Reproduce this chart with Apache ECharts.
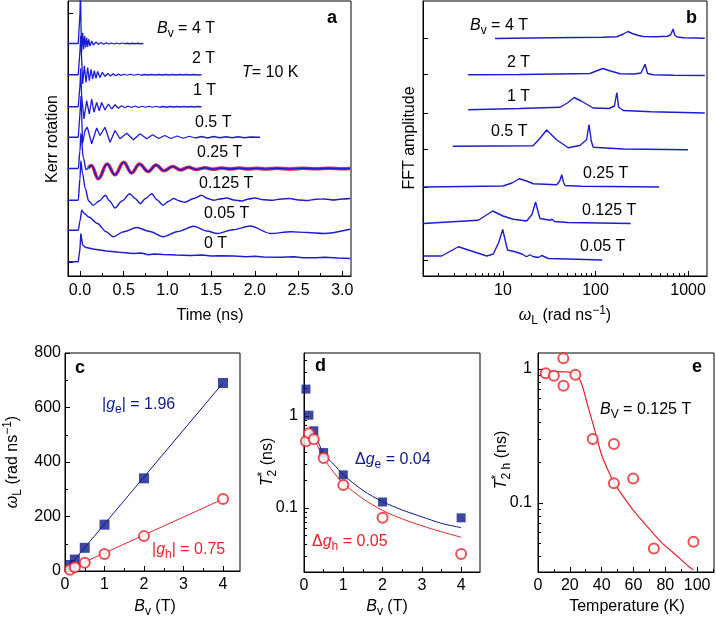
<!DOCTYPE html>
<html>
<head>
<meta charset="utf-8">
<title>Spin precession and dephasing</title>
<script src="https://cdn.jsdelivr.net/npm/echarts@6.0.0/dist/echarts.min.js"></script>
<style>
  html, body { margin: 0; padding: 0; background: #fff; }
  #chart { width: 716px; height: 619px; }
</style>
</head>
<body>
<div id="chart"></div>
<script>
// ---- panel a: Kerr rotation traces, [time (ns), offset units] ----
const kerr4T = [[-0.14,9.30],[-0.02,9.30],[0.0,10.5],[0.006,11.5],[0.012,10.0],[0.019,8.96],[0.031,9.73],[0.042,9.07],[0.053,9.60],[0.065,9.14],[0.076,9.53],[0.088,9.16],[0.099,9.47],[0.115,9.20],[0.134,9.40],[0.153,9.24],[0.183,9.36],[0.210,9.27],[0.24,9.34],[0.27,9.27],[0.30,9.33],[0.33,9.28],[0.36,9.32],[0.39,9.28],[0.42,9.32],[0.45,9.28],[0.48,9.32],[0.51,9.29],[0.54,9.31],[0.57,9.29],[0.60,9.31],[0.63,9.29],[0.66,9.31],[0.69,9.29],[0.725,9.30]];
const kerr2T = [[-0.14,8.05],[-0.02,8.05],[0.0,9.0],[0.008,9.6],[0.02,8.6],[0.031,7.68],[0.050,8.41],[0.069,7.74],[0.088,8.34],[0.107,7.81],[0.126,8.27],[0.145,7.88],[0.164,8.21],[0.183,7.91],[0.202,8.18],[0.229,7.94],[0.256,8.15],[0.286,7.98],[0.317,8.10],[0.35,8.00],[0.38,8.09],[0.41,8.01],[0.44,8.08],[0.47,8.02],[0.50,8.07],[0.54,8.03],[0.58,8.07],[0.62,8.03],[0.66,8.07],[0.70,8.03],[0.74,8.06],[0.78,8.04],[0.82,8.06],[0.86,8.04],[0.90,8.06],[0.94,8.04],[0.98,8.06],[1.02,8.04],[1.06,8.06],[1.10,8.04],[1.14,8.06],[1.18,8.04],[1.22,8.06],[1.26,8.04],[1.30,8.06],[1.34,8.04],[1.39,8.05]];
const kerr1T = [[-0.14,6.77],[-0.02,6.77],[0.0,7.6],[0.008,8.3],[0.019,7.21],[0.046,6.28],[0.076,7.01],[0.107,6.48],[0.134,7.08],[0.160,6.55],[0.191,6.94],[0.221,6.61],[0.248,6.94],[0.286,6.64],[0.325,6.88],[0.363,6.68],[0.401,6.85],[0.439,6.71],[0.477,6.81],[0.515,6.73],[0.55,6.80],[0.59,6.74],[0.63,6.80],[0.67,6.74],[0.71,6.79],[0.75,6.75],[0.79,6.79],[0.83,6.75],[0.87,6.79],[0.91,6.75],[0.95,6.78],[0.99,6.75],[1.03,6.78],[1.07,6.76],[1.11,6.78],[1.15,6.76],[1.19,6.78],[1.23,6.76],[1.27,6.78],[1.31,6.76],[1.35,6.78],[1.39,6.77]];
const kerr05T = [[-0.14,5.55],[-0.02,5.55],[0.0,6.5],[0.012,7.2],[0.03,5.3],[0.057,5.82],[0.084,5.95],[0.134,5.29],[0.191,5.92],[0.229,5.62],[0.286,5.95],[0.344,5.35],[0.401,5.82],[0.458,5.49],[0.535,5.71],[0.611,5.45],[0.687,5.69],[0.764,5.49],[0.83,5.65],[0.90,5.50],[0.97,5.62],[1.04,5.50],[1.11,5.60],[1.18,5.51],[1.25,5.59],[1.32,5.52],[1.39,5.58],[1.46,5.52],[1.53,5.58],[1.60,5.53],[1.67,5.57],[1.74,5.53],[1.81,5.57],[1.88,5.53],[1.95,5.56],[2.06,5.55]];
const kerr025T = [[-0.14,4.30],[-0.02,4.30],[0.0,5.0],[0.01,5.7],[0.04,4.7],[0.07,4.25],[0.095,4.32],[0.13,4.42],[0.21,3.89],[0.31,4.48],[0.40,4.05],[0.50,4.55],[0.59,4.12],[0.68,4.48],[0.78,4.18],[0.87,4.44],[0.96,4.21],[1.06,4.38],[1.15,4.24],[1.24,4.35],[1.33,4.26],[1.43,4.33],[1.52,4.27],[1.62,4.32],[1.72,4.28],[1.82,4.32],[1.92,4.28],[2.02,4.31],[2.12,4.28],[2.25,4.31],[2.4,4.28],[2.55,4.31],[2.7,4.29],[2.85,4.31],[3.0,4.29],[3.09,4.30]];
const kerr0125T = [[-0.14,3.03],[-0.02,3.03],[0.0,3.9],[0.01,4.6],[0.03,4.1],[0.06,3.5],[0.1,3.0],[0.15,2.83],[0.22,3.0],[0.29,3.23],[0.34,3.0],[0.40,2.72],[0.48,3.0],[0.57,3.29],[0.63,3.1],[0.69,2.90],[0.75,3.1],[0.82,3.29],[0.88,3.05],[0.95,2.83],[1.01,2.98],[1.07,3.10],[1.14,3.00],[1.20,2.95],[1.30,3.10],[1.39,3.23],[1.46,3.10],[1.53,3.03],[1.60,3.08],[1.68,3.12],[1.76,3.04],[1.85,3.00],[1.93,3.08],[2.0,3.12],[2.1,3.05],[2.2,3.03],[2.3,3.08],[2.4,3.10],[2.5,3.04],[2.6,3.02],[2.7,3.07],[2.8,3.08],[2.9,3.04],[3.0,3.08],[3.09,3.10]];
const kerr005T = [[-0.14,1.83],[-0.02,1.83],[0.0,2.2],[0.02,2.63],[0.05,2.5],[0.1,2.36],[0.2,2.10],[0.3,1.77],[0.38,1.57],[0.5,1.77],[0.65,1.94],[0.8,1.78],[0.95,1.57],[1.12,1.78],[1.3,1.99],[1.45,1.80],[1.57,1.70],[1.75,1.85],[1.95,2.00],[2.18,1.70],[2.41,1.77],[2.6,1.74],[2.79,1.70],[3.09,1.87]];
const kerr0T = [[-0.14,0.57],[-0.02,0.57],[0.0,1.1],[0.01,1.7],[0.03,1.25],[0.06,1.15],[0.15,1.08],[0.3,1.0],[0.45,0.95],[0.61,0.90],[0.7,0.92],[0.78,0.85],[0.85,0.88],[0.95,0.86],[1.1,0.84],[1.26,0.82],[1.4,0.84],[1.5,0.80],[1.6,0.81],[1.76,0.80],[1.9,0.77],[2.0,0.79],[2.1,0.76],[2.3,0.75],[2.45,0.77],[2.55,0.73],[2.7,0.73],[2.8,0.75],[2.95,0.72],[3.09,0.70]];

// ---- panel b: FFT spectra, [omega (rad/ns), offset units] ----
const fft4T = [[8.2,9.50],[20,9.52],[60,9.54],[120,9.55],[170,9.57],[200,9.68],[224,9.78],[250,9.70],[290,9.62],[330,9.58],[450,9.57],[600,9.59],[650,9.65],[690,9.88],[715,9.65],[760,9.56],[900,9.53],[1200,9.52],[1516,9.51]];
const fft2T = [[4.2,8.05],[15,8.06],[40,8.08],[87,8.10],[105,8.22],[120,8.30],[145,8.20],[184,8.09],[260,8.08],[310,8.12],[343,8.47],[365,8.10],[420,8.05],[700,8.03],[1516,8.02]];
const fft1T = [[4.2,6.65],[15,6.70],[41.5,6.75],[50,6.93],[58.7,7.14],[70,7.00],[94,6.72],[140,6.70],[160,6.80],[170,7.34],[178,6.75],[200,6.62],[400,6.57],[1516,6.52]];
const fft05T = [[2.86,5.19],[21.1,5.21],[25,5.50],[29.6,5.84],[38,5.45],[50.6,5.13],[67.7,5.22],[80,5.45],[85,6.06],[90,5.40],[94.4,5.15],[200,5.08],[1000,5.05]];
const fft025T = [[1.37,3.56],[10,3.60],[12.5,3.72],[15,3.89],[18,3.80],[21.3,3.69],[38,3.65],[41,3.80],[43.1,4.05],[45,3.75],[46.8,3.62],[70,3.59],[488,3.56]];
const fft0125T = [[1.37,2.10],[5.41,2.23],[6.5,2.42],[7.74,2.60],[10,2.40],[12.9,2.27],[18,2.20],[20.5,2.45],[22.5,2.96],[24,2.55],[25.1,2.30],[32.2,2.23],[34,2.27],[36,2.18],[50,2.14],[240,2.10]];
const fft005T = [[1.37,0.80],[2.17,0.80],[3.29,1.17],[6.67,0.80],[7.86,0.88],[9.0,1.35],[9.93,1.86],[10.6,1.40],[11.2,1.04],[13.5,0.97],[16,0.88],[18,0.77],[19.5,0.85],[21,0.78],[24.1,0.74],[26.2,0.82],[30.9,0.70],[50,0.68],[118,0.64]];

// ---- panel c: Larmor frequency vs field ----
const cFieldE = [0.125, 0.25, 0.5, 1, 2, 4];
const cOmegaE = [22, 42, 85, 170, 340, 690];
const cFieldH = [0.125, 0.25, 0.5, 1, 2, 4];
const cOmegaH = [5, 14, 30, 62, 128, 264];
const cFitField = [0, 4];
const cFitE = [0, 690];
const cFitH = [0, 264];

// ---- panel d: T2* vs field ----
const dFieldE = [0.05, 0.125, 0.25, 0.5, 1, 2, 4];
const dT2E = [1.96, 1.02, 0.69, 0.40, 0.229, 0.116, 0.078];
const dFieldH = [0.05, 0.125, 0.25, 0.5, 1, 2, 4];
const dT2H = [0.53, 0.65, 0.56, 0.35, 0.178, 0.078, 0.0316];
const dFitField = [0.18, 0.3, 0.5, 0.75, 1, 1.5, 2, 2.5, 3, 3.5, 4];
const dFitE = [0.75, 0.6, 0.39, 0.3, 0.23, 0.155, 0.117, 0.095, 0.08, 0.068, 0.061];
const dFitH = [0.65, 0.52, 0.35, 0.245, 0.185, 0.126, 0.094, 0.076, 0.064, 0.055, 0.048];

// ---- panel e: hole T2* vs temperature ----
const eTemp = [4.8, 10, 15.9, 16, 23.5, 34.4, 47.7, 47.7, 59.8, 72.8, 97.7];
const eT2h = [0.93, 0.89, 1.2, 0.75, 0.906, 0.30, 0.275, 0.14, 0.152, 0.0456, 0.0514];
const eFitTemp = [3, 10, 18, 23, 27.2, 31.4, 35.6, 39.7, 43.9, 48.1, 54.4, 60.7, 69, 77.4, 85.8, 94.1, 97.7];
const eFitT2h = [0.955, 0.955, 0.95, 0.933, 0.785, 0.525, 0.351, 0.234, 0.176, 0.14, 0.108, 0.0856, 0.066, 0.051, 0.0417, 0.034, 0.0316];

// ---- tick values ----
const aTimeMajor = [0, 0.5, 1, 1.5, 2, 2.5, 3];
const aTimeMinor = [0.25, 0.75, 1.25, 1.75, 2.25, 2.75];
const aOffsetTicks = [0.56, 5.54, 10.52];
const bOmegaMajor = [10, 100, 1000];
const bOmegaMinor = [2, 3, 4, 5, 6, 7, 8, 9, 20, 30, 40, 50, 60, 70, 80, 90, 200, 300, 400, 500, 600, 700, 800, 900];
const bOffsetTicks = [0.64, 2.11, 3.55, 5.06, 6.53, 8.05, 9.52];
const fieldMajor = [0, 1, 2, 3, 4];
const fieldMinor = [0.5, 1.5, 2.5, 3.5];
const cOmegaMajor = [0, 200, 400, 600, 800];
const cOmegaMinor = [100, 300, 500, 700];
const logMajor = [0.1, 1];
const dT2Minor = [0.03, 0.04, 0.05, 0.06, 0.07, 0.08, 0.09, 0.2, 0.3, 0.4, 0.5, 0.6, 0.7, 0.8, 0.9, 2, 3, 4];
const eT2Minor = [0.04, 0.05, 0.06, 0.07, 0.08, 0.09, 0.2, 0.3, 0.4, 0.5, 0.6, 0.7, 0.8, 0.9];
const eTempMajor = [0, 20, 40, 60, 80, 100];
const eTempMinor = [10, 30, 50, 70, 90, 110];

const FONT = '"Liberation Sans", Arial, Helvetica, sans-serif';
const TRACE = '#1c1cd2';
const NAVY = '#0f1a8a';
const RED = '#e8232b';

const zip = (xs, ys) => xs.map((x, i) => [x, ys[i]]);

// major axis with labels + a twin carrying the short minor ticks
function axes(dim, gi, o) {
  const base = {
    type: o.type || 'value',
    gridIndex: gi,
    min: o.min,
    max: o.max,
    position: dim === 'x' ? 'bottom' : 'left',
    splitLine: { show: false }
  };
  if (o.type === 'log') base.logBase = 10;
  const major = Object.assign({}, base, {
    axisLine: { show: true, onZero: false, lineStyle: { color: '#000', width: 1 } },
    axisTick: { show: true, inside: true, length: 5, customValues: o.ticks, lineStyle: { color: '#000', width: 1 } },
    axisLabel: {
      show: !!o.labels,
      customValues: o.labels || [],
      margin: o.margin || 6,
      fontSize: 16,
      fontFamily: FONT,
      color: '#000',
      formatter: o.fmt || (v => String(v))
    }
  });
  const minor = Object.assign({}, base, {
    axisLine: { show: false, onZero: false },
    axisTick: { show: !!(o.minor && o.minor.length), inside: true, length: 3, customValues: o.minor || [], lineStyle: { color: '#000', width: 1 } },
    axisLabel: { show: false }
  });
  return [major, minor];
}

function line(gi, data, color, width, extra) {
  return Object.assign({
    type: 'line',
    xAxisIndex: 2 * gi,
    yAxisIndex: 2 * gi,
    data: data,
    symbol: 'none',
    showSymbol: false,
    lineStyle: { color: color, width: width },
    itemStyle: { color: color },
    silent: true
  }, extra || {});
}

function squares(gi, data, size) {
  return {
    type: 'scatter', xAxisIndex: 2 * gi, yAxisIndex: 2 * gi, data: data,
    symbol: 'rect', symbolSize: size, itemStyle: { color: NAVY }, z: 5, silent: true
  };
}

function circles(gi, data, size) {
  return {
    type: 'scatter', xAxisIndex: 2 * gi, yAxisIndex: 2 * gi, data: data,
    symbol: 'circle', symbolSize: size,
    itemStyle: { color: '#fff', borderColor: RED, borderWidth: 2 }, z: 6, silent: true
  };
}

// text with sub/superscripts: flags i italic, b sub, p sup, n no advance
const meas = document.createElement('canvas').getContext('2d');
function fontStr(size, italic, bold) {
  return (italic ? 'italic ' : '') + (bold ? 'bold ' : '') + size + 'px ' + FONT;
}
function label(x, y, parts, opt) {
  opt = opt || {};
  const size = opt.size || 16;
  const kids = [];
  let cx = 0;
  parts.forEach(p => {
    const txt = p[0];
    const fl = p[1] || '';
    const small = fl.includes('b') || fl.includes('p');
    const font = fontStr(small ? Math.round(size * 0.72) : size, fl.includes('i'), opt.bold);
    meas.font = font;
    const w = meas.measureText(txt).width;
    const dy = fl.includes('b') ? size * 0.32 : (fl.includes('p') ? -size * 0.36 : 0);
    kids.push({
      type: 'text', x: cx, y: dy,
      style: { text: txt, font: font, fill: opt.color || '#000', align: 'left', verticalAlign: 'middle' }
    });
    if (!fl.includes('n')) cx += w;
  });
  if (opt.center) kids.forEach(k => { k.x -= cx / 2; });
  return { type: 'group', x: x, y: y, rotation: opt.rot ? Math.PI / 2 : 0, silent: true, children: kids };
}

const texts = [
  // panel a
  label(157, 29, [['B', 'i'], ['v', 'b'], [' = 4 T']]),
  label(192, 59, [['2 T']]),
  label(242, 73, [['T', 'i'], ['= 10 K']]),
  label(193, 91, [['1 T']]),
  label(195, 123, [['0.5 T']]),
  label(197, 153, [['0.25 T']]),
  label(199, 184, [['0.125 T']]),
  label(204, 214, [['0.05 T']]),
  label(204, 244, [['0 T']]),
  label(327, 18, [['a']], { bold: true, size: 18 }),
  label(53, 139, [['Kerr rotation']], { rot: true, center: true }),
  label(210, 316, [['Time (ns)']], { center: true }),
  // panel b
  label(470, 26, [['B', 'i'], ['v', 'b'], [' = 4 T']]),
  label(507, 63, [['2 T']]),
  label(507, 97, [['1 T']]),
  label(491, 132, [['0.5 T']]),
  label(583, 174, [['0.25 T']]),
  label(582, 211, [['0.125 T']]),
  label(580, 247, [['0.05 T']]),
  label(686, 18, [['b']], { bold: true, size: 18 }),
  label(410, 138, [['FFT amplitude']], { rot: true, center: true }),
  label(565, 316, [['ω', 'i'], ['L', 'b'], [' (rad ns'], ['−1', 'p'], [')']], { center: true }),
  // panel c
  label(75, 368, [['c']], { bold: true, size: 18 }),
  label(102, 405, [['|'], ['g', 'i'], ['e', 'b'], ['| = 1.96']], { color: NAVY }),
  label(152, 550, [['|'], ['g', 'i'], ['h', 'b'], ['| = 0.75']], { color: RED }),
  label(13, 462, [['ω', 'i'], ['L', 'b'], [' (rad ns'], ['−1', 'p'], [')']], { rot: true, center: true }),
  label(155, 607, [['B', 'i'], ['v', 'b'], [' (T)']], { center: true }),
  // panel d
  label(315, 366, [['d']], { bold: true, size: 18 }),
  label(355, 460, [['Δ'], ['g', 'i'], ['e', 'b'], [' = 0.04']], { color: NAVY }),
  label(312, 542, [['Δ'], ['g', 'i'], ['h', 'b'], [' = 0.05']], { color: RED }),
  label(268, 462, [['T', 'i'], ['*', 'pn'], ['2', 'b'], [' (ns)']], { rot: true, center: true }),
  label(387, 607, [['B', 'i'], ['v', 'b'], [' (T)']], { center: true }),
  // panel e
  label(692, 367, [['e']], { bold: true, size: 18 }),
  label(600, 410, [['B', 'i'], ['V', 'b'], [' = 0.125 T']]),
  label(502, 460, [['T', 'i'], ['*', 'pn'], ['2 h', 'b'], [' (ns)']], { rot: true, center: true }),
  label(627, 607, [['Temperature (K)']], { center: true })
];

const gridBox = (left, top, width, height) => ({
  left: left, top: top, width: width, height: height,
  show: true, borderColor: '#000', borderWidth: 1,
  containLabel: false, outerBoundsMode: 'none'
});

const chart = echarts.init(document.getElementById('chart'), null, { renderer: 'canvas' });
chart.setOption({
  animation: false,
  backgroundColor: '#fff',
  grid: [
    gridBox(68, 1, 283, 275),
    gridBox(423, 1, 284, 275),
    gridBox(65, 353, 175, 218),
    gridBox(304, 353, 176, 219),
    gridBox(538, 353, 176, 219)
  ],
  xAxis: [
    ...axes('x', 0, { min: -0.137, max: 3.1, ticks: aTimeMajor, minor: aTimeMinor, labels: aTimeMajor, fmt: v => v.toFixed(1), margin: 7 }),
    ...axes('x', 1, { type: 'log', min: 1.365, max: 1603, ticks: bOmegaMajor, minor: bOmegaMinor, labels: bOmegaMajor, margin: 7 }),
    ...axes('x', 2, { min: 0, max: 4.43, ticks: fieldMajor, minor: fieldMinor, labels: fieldMajor, margin: 6 }),
    ...axes('x', 3, { min: 0, max: 4.48, ticks: fieldMajor, minor: fieldMinor, labels: fieldMajor, margin: 6 }),
    ...axes('x', 4, { min: 0, max: 110.6, ticks: eTempMajor, minor: eTempMinor, labels: eTempMajor, margin: 6 })
  ],
  yAxis: [
    ...axes('y', 0, { min: 0, max: 11, ticks: aOffsetTicks }),
    ...axes('y', 1, { min: 0, max: 11, ticks: bOffsetTicks }),
    ...axes('y', 2, { min: 0, max: 800, ticks: cOmegaMajor, minor: cOmegaMinor, labels: cOmegaMajor, margin: 4 }),
    ...axes('y', 3, { type: 'log', min: 0.0201, max: 4.84, ticks: logMajor, minor: dT2Minor, labels: logMajor, margin: 6 }),
    ...axes('y', 4, { type: 'log', min: 0.0305, max: 1.316, ticks: logMajor, minor: eT2Minor, labels: logMajor, margin: 6 })
  ],
  series: [
    // a
    line(0, kerr4T, TRACE, 1.3),
    line(0, kerr2T, TRACE, 1.3),
    line(0, kerr1T, TRACE, 1.3),
    line(0, kerr05T, TRACE, 1.3),
    line(0, kerr025T.filter(p => p[0] >= 0.09), '#e0284a', 3.6, { smooth: 0.4, smoothMonotone: 'x', z: 1 }),
    line(0, kerr025T, TRACE, 1.4, { smooth: 0.4, smoothMonotone: 'x', z: 3 }),
    line(0, kerr0125T, TRACE, 1.4, { smooth: 0.3, smoothMonotone: 'x' }),
    line(0, kerr005T, TRACE, 1.4, { smooth: 0.3, smoothMonotone: 'x' }),
    line(0, kerr0T, TRACE, 1.4),
    // b
    line(1, fft4T, TRACE, 1.4),
    line(1, fft2T, TRACE, 1.4),
    line(1, fft1T, TRACE, 1.4),
    line(1, fft05T, TRACE, 1.4),
    line(1, fft025T, TRACE, 1.4),
    line(1, fft0125T, TRACE, 1.4),
    line(1, fft005T, TRACE, 1.4),
    // c
    line(2, zip(cFitField, cFitE), NAVY, 1),
    line(2, zip(cFitField, cFitH), RED, 1),
    squares(2, zip(cFieldE, cOmegaE), 10),
    circles(2, zip(cFieldH, cOmegaH), 10),
    // d
    line(3, zip(dFitField, dFitE), NAVY, 1, { smooth: 0.3 }),
    line(3, zip(dFitField, dFitH), RED, 1, { smooth: 0.3 }),
    squares(3, zip(dFieldE, dT2E), 9),
    circles(3, zip(dFieldH, dT2H), 10),
    // e
    line(4, zip(eFitTemp, eFitT2h), RED, 1.2, { smooth: 0.3 }),
    circles(4, zip(eTemp, eT2h), 10)
  ],
  graphic: { elements: texts }
});
</script>
</body>
</html>
